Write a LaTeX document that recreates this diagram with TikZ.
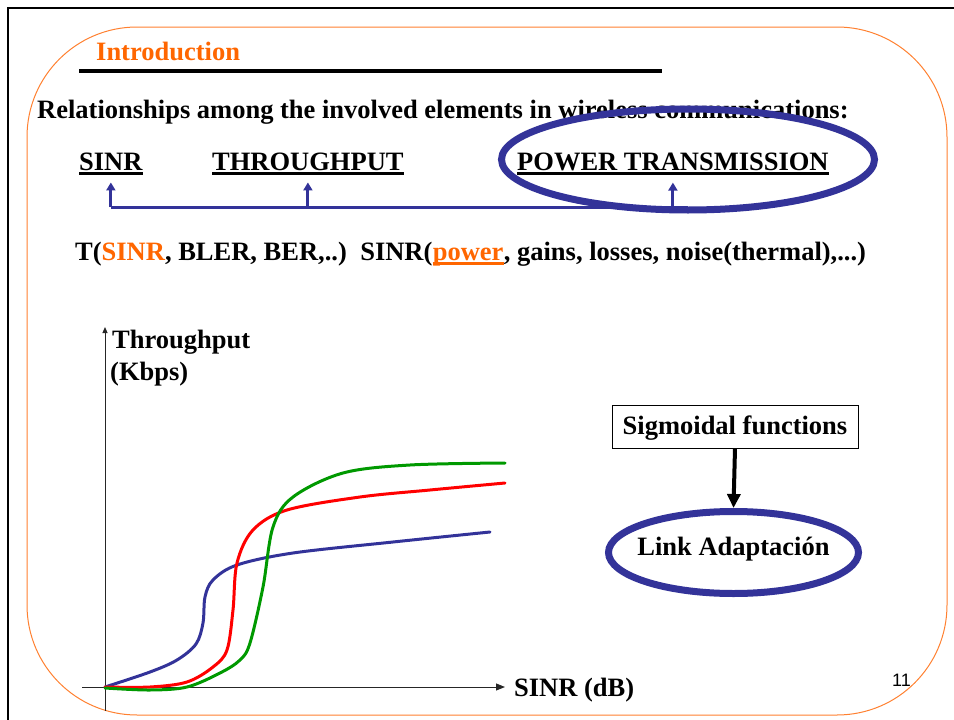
\documentclass[tikz,border=0pt]{standalone}
\usepackage{fontspec}
\setmainfont{Liberation Serif}
\newfontfamily\sansf{Liberation Sans}
\usetikzlibrary{shapes.geometric,arrows.meta}
\definecolor{myorange}{HTML}{FF6600}
\definecolor{frameorange}{HTML}{FF8030}
\definecolor{myblue}{HTML}{333399}
\definecolor{mygreen}{HTML}{009900}
\begin{document}
\begin{tikzpicture}[x=1pt,y=-1pt,
  txt/.style={inner sep=0pt, anchor=base west, font=\bfseries\fontsize{26.5}{30}\selectfont},
  uline/.style={line width=2.5pt},
  bluebar/.style={myblue, line width=3pt},
  conn/.style={myblue, line width=3pt, -{Triangle[length=8pt,width=9pt]}},
  curvestyle/.style={line width=3pt, line cap=round},
  bigell/.style={draw=myblue, line width=7pt, ellipse, inner sep=0pt},
  axisline/.style={line width=1pt, black!85}]
\useasboundingbox (0,0) rectangle (954,720);
% frames
\draw[line width=2pt] (8,740) -- (8,8) -- (970,8);
\draw[frameorange, line width=1pt, rounded corners=110pt] (27,27) rectangle (947,715);
% title
\node[txt, text=myorange] (intro) at (96,60) {Introduction};
\draw[line width=4pt] (79,71) -- (662,71);
\node[txt] (rel) at (37,118) {Relationships among the involved elements in wireless communications:};
% three elements
\node[txt] (sinr) at (79,170) {SINR};
\node[txt] (thr) at (212,170) {THROUGHPUT};
\node[txt] (pow) at (517,170) {POWER TRANSMISSION};
\foreach \n in {sinr,thr,pow}{
  \draw[uline] ([yshift=-3.5pt]\n.base west) -- ([yshift=-3.5pt]\n.base east);
}
\coordinate (bar) at (0,207);
\coordinate (barend) at (688,207);
\draw[bluebar] (sinr.south |- bar) -- (barend);
\foreach \n in {sinr,thr,pow}{
  \draw[conn] (\n.south |- bar) -- ([yshift=-12pt]\n.south);
}
\node[bigell, minimum width=373pt, minimum height=101pt] (powcirc) at (688,159.5) {};
% formula line
\node[txt] (tl1) at (75,260) {T(\textcolor{myorange}{SINR}, BLER, BER,..)};
\node[txt] (tl2) at ([xshift=13pt]tl1.base east) {SINR(};
\node[txt, text=myorange] (tlp) at (tl2.base east) {power};
\node[txt] (tl3) at (tlp.base east) {, gains, losses, noise(thermal),...)};
\draw[myorange, line width=2.5pt] ([yshift=-3.5pt]tlp.base west) -- ([yshift=-3.5pt]tlp.base east);
% axes
\node[txt] (ylab1) at (112,348) {Throughput};
\node[txt] (ylab2) at (110,380) {(Kbps)};
\node[txt] (xlab) at (514,696) {SINR (dB)};
\draw[axisline, -{Triangle[length=6pt,width=5pt]}] (105,711) -- (105,327);
\draw[axisline, -{Triangle[length=9pt,width=7pt]}] (82,687) -- (505,687);
% curves
\draw[curvestyle, myblue] plot[smooth, tension=0.55] coordinates {(105,687) (150,672) (177,660) (196,644) (203,623) (205,597) (213,580) (237,565) (293,553) (393,542) (490,532)};
\draw[curvestyle, red] plot[smooth, tension=0.55] coordinates {(105,687) (150,687) (187,682) (213,667) (227,650) (233,610) (237,563) (253,530) (287,510) (360,497) (430,490) (505,483)};
\draw[curvestyle, mygreen] plot[smooth, tension=0.55] coordinates {(105,688) (150,690) (187,687) (220,673) (240,660) (250,643) (263,587) (273,527) (293,497) (343,473) (410,465) (505,463)};
% right side
\node[draw, line width=1pt, minimum width=246pt, minimum height=43pt, inner sep=0pt,
      text height=21pt, text depth=6pt,
      font=\bfseries\fontsize{26.5}{30}\selectfont] (sig) at (735,426.5) {Sigmoidal functions};
\node[bigell, minimum width=250pt, minimum height=82pt] (link) at (733.5,552.5) {};
\node[txt, anchor=base] (linktxt) at ([yshift=-2.5pt]link.center) {Link Adaptación};
\draw[line width=4pt, -{Triangle[length=14pt,width=13pt]}] (sig.south) -- (link.north);
\node[inner sep=0pt, anchor=base west, font=\sansf\fontsize{18}{20}\selectfont] (pagenum) at (892,686) {11};
\end{tikzpicture}
\end{document}
